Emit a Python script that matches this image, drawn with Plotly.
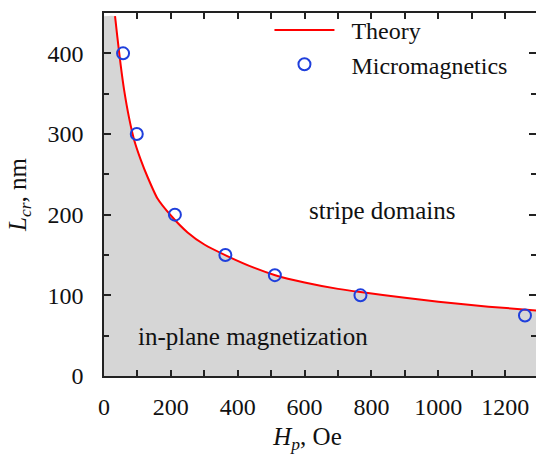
import plotly.graph_objects as go

# Theory curve
H_theory = [33, 40, 50, 60, 75, 90, 110, 130, 160, 200, 250, 300, 367, 450, 512, 600, 700, 767, 900, 1000, 1150, 1300]
L_theory = [446, 420, 385, 355, 320, 293, 268, 247, 220, 199, 178, 163, 149, 134, 125, 116, 108, 104, 97, 92, 86, 81]

# Micromagnetics points
H_micro = [57, 98, 212, 363, 511, 767, 1259]
L_micro = [400, 300, 200, 150, 125, 100, 75]

x_ticks = [0, 200, 400, 600, 800, 1000, 1200]
y_ticks = [0, 100, 200, 300, 400]
X_MAX = 1292
Y_MAX = 450

FONT = "Liberation Serif"
AX = "#222222"
RED = "#ff0000"
BLUE = "#1f3fdc"

fig = go.Figure()

# gray region under the theory curve
fig.add_trace(go.Scatter(
    x=[0] + H_theory, y=[L_theory[0]] + L_theory,
    mode="lines", line=dict(width=0, shape="spline", smoothing=0.5),
    fill="tozeroy", fillcolor="#d6d6d6", showlegend=False, hoverinfo="skip"))

fig.add_trace(go.Scatter(
    x=H_theory, y=L_theory, mode="lines", name="&nbsp;&nbsp;Theory",
    line=dict(color=RED, width=2, shape="spline", smoothing=0.5)))

fig.add_trace(go.Scatter(
    x=H_micro, y=L_micro, mode="markers", name="&nbsp;&nbsp;Micromagnetics",
    marker=dict(symbol="circle-open", size=12, color=BLUE, line=dict(width=2, color=BLUE))))

# invisible trace on right axis to show mirrored ticks without the spine
fig.add_trace(go.Scatter(x=[None], y=[None], yaxis="y2", showlegend=False, hoverinfo="skip"))

fig.update_layout(
    width=536, height=454,
    margin=dict(l=104, r=0, t=13, b=78),
    paper_bgcolor="white", plot_bgcolor="white",
    font=dict(family=FONT, size=24, color="#111111"),
    showlegend=True,
    legend=dict(x=0.383, y=1.014, xanchor="left", yanchor="top",
                bgcolor="rgba(0,0,0,0)", font=dict(size=24, family=FONT),
                itemwidth=60, tracegroupgap=0),
    xaxis=dict(range=[0, X_MAX], tickvals=x_ticks, ticks="inside", ticklen=6,
               tickwidth=1.5, tickcolor=AX, showline=True, linecolor=AX, linewidth=1.5,
               mirror="allticks", showgrid=False, zeroline=False, automargin=False,
               minor=dict(ticks="inside", dtick=100, ticklen=5, tickwidth=1.5, tickcolor=AX),
               tickfont=dict(size=24, family=FONT), ticklabelstandoff=8,
               title=dict(text="<i>H</i><sub><i>p</i></sub>, Oe&nbsp;&nbsp;&nbsp;&nbsp;",
                          font=dict(size=25, family=FONT), standoff=9)),
    yaxis=dict(range=[0, Y_MAX], tickvals=y_ticks, ticks="inside", ticklen=7,
               tickwidth=1.5, tickcolor=AX, showline=True, linecolor=AX, linewidth=1.5,
               mirror=False, showgrid=False, zeroline=False, automargin=False,
               minor=dict(ticks="inside", dtick=50, ticklen=5, tickwidth=1.5, tickcolor=AX),
               tickfont=dict(size=24, family=FONT), ticklabelstandoff=14,
               title=dict(text="<i>L</i><sub><i>cr</i></sub>, nm", font=dict(size=25, family=FONT),
                          standoff=14)),
    yaxis2=dict(range=[0, Y_MAX], tickvals=y_ticks, overlaying="y", side="right",
                ticks="inside", ticklen=7, tickwidth=1.5, tickcolor=AX, automargin=False,
                showline=False, showgrid=False, zeroline=False, showticklabels=False,
                minor=dict(ticks="inside", dtick=50, ticklen=5, tickwidth=1.5, tickcolor=AX)),
    annotations=[
        dict(text="stripe domains", x=0.645, y=0.457, xref="paper", yref="paper",
             xanchor="center", yanchor="middle",
             showarrow=False, font=dict(size=25, family=FONT, color="#111111")),
        dict(text="in-plane magnetization", x=0.345, y=0.11, xref="paper", yref="paper",
             xanchor="center", yanchor="middle",
             showarrow=False, font=dict(size=25, family=FONT, color="#111111")),
    ],
)

fig.write_html("out.html", config={"displayModeBar": False},
               post_script="document.body.style.margin='0';")
